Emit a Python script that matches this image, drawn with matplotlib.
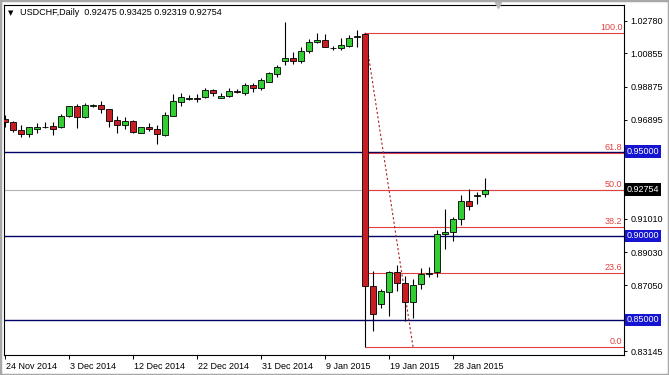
import matplotlib
matplotlib.use("Agg")
import matplotlib.pyplot as plt
from matplotlib.patches import Rectangle
import matplotlib.transforms as mtransforms

plt.rcParams['font.family'] = ['Liberation Sans', 'DejaVu Sans']
FS = 6.5

# daily candles, bar 0 = 24 Nov 2014 (MT4 chart incl. Sunday bars)
opens = [0.9693, 0.9677, 0.9630, 0.9604, 0.9637, 0.9645, 0.9653, 0.9646, 0.9713, 0.9772,
         0.9705, 0.9775, 0.9778, 0.9753, 0.9689, 0.9659, 0.9683, 0.9613, 0.9649, 0.9634,
         0.9600, 0.9715, 0.9798, 0.9816, 0.9818, 0.9824, 0.9868, 0.9818, 0.9832, 0.9862,
         0.9848, 0.9897, 0.9878, 0.9917, 0.9963, 1.0042, 1.0056, 1.0042, 1.0101, 1.0150,
         1.0165, 1.0118, 1.0116, 1.0131, 1.0181, 1.0199, 0.8701, 0.8592, 0.8667, 0.8783,
         0.8717, 0.8608, 0.8711, 0.8773, 0.8783, 0.9009, 0.9024, 0.9098, 0.9207, 0.9238,
         0.92475]
highs = [0.9719, 0.9685, 0.9659, 0.9649, 0.9669, 0.9675, 0.9677, 0.9725, 0.9772, 0.9784,
         0.9788, 0.9782, 0.9804, 0.9753, 0.9713, 0.9705, 0.9689, 0.9649, 0.9669, 0.9659,
         0.9737, 0.9841, 0.9848, 0.9838, 0.9842, 0.9878, 0.9872, 0.9848, 0.9878, 0.9873,
         0.9907, 0.9911, 0.9937, 0.9975, 1.0016, 1.0272, 1.0095, 1.0125, 1.0168, 1.0205,
         1.0202, 1.0131, 1.0179, 1.0195, 1.0224, 1.0208, 0.8791, 0.8682, 0.8792, 0.8826,
         0.8763, 0.8741, 0.8807, 0.8816, 0.9035, 0.9159, 0.9114, 0.9243, 0.9278, 0.9259,
         0.93425]
lows = [0.9649, 0.9619, 0.9586, 0.9590, 0.9610, 0.9643, 0.9600, 0.9640, 0.9709, 0.9640,
        0.9699, 0.9768, 0.9729, 0.9649, 0.9613, 0.9634, 0.9613, 0.9610, 0.9625, 0.9546,
        0.9596, 0.9715, 0.9774, 0.9808, 0.9798, 0.9818, 0.9832, 0.9818, 0.9828, 0.9852,
        0.9838, 0.9857, 0.9867, 0.9917, 0.9947, 1.0016, 1.0022, 1.0026, 1.0086, 1.0145,
        1.0125, 1.0107, 1.0107, 1.0125, 1.0125, 0.8340, 0.8435, 0.8569, 0.8525, 0.8672,
        0.8493, 0.8509, 0.8682, 0.8757, 0.8757, 0.8922, 0.8969, 0.9064, 0.9153, 0.9187,
        0.92319]
closes = [0.9675, 0.9630, 0.9604, 0.9646, 0.9649, 0.9650, 0.9637, 0.9713, 0.9772, 0.9705,
          0.9778, 0.9778, 0.9753, 0.9685, 0.9659, 0.9683, 0.9619, 0.9649, 0.9635, 0.9604,
          0.9719, 0.9802, 0.9824, 0.9820, 0.9815, 0.9868, 0.9848, 0.9832, 0.9862, 0.9856,
          0.9897, 0.9881, 0.9927, 0.9967, 1.0006, 1.0056, 1.0042, 1.0102, 1.0150, 1.0165,
          1.0125, 1.0116, 1.0135, 1.0179, 1.0187, 0.8701, 0.8533, 0.8672, 0.8783, 0.8717,
          0.8608, 0.8707, 0.8773, 0.8778, 0.9009, 0.9021, 0.9098, 0.9207, 0.9179, 0.9243,
          0.92754]

date_idx = [0, 8, 16, 24, 32, 40, 48, 56]
date_labels = ["24 Nov 2014", "3 Dec 2014", "12 Dec 2014", "22 Dec 2014",
               "31 Dec 2014", "9 Jan 2015", "19 Jan 2015", "28 Jan 2015"]

price_ticks = [1.02780, 1.00855, 0.98875, 0.96895, 0.91010, 0.89030, 0.87050, 0.83145]
hlines = [0.95, 0.90, 0.85]
bid = 0.92754

# fibonacci anchors (bar, price)
fib_a = (45, 1.0208)
fib_b = (51, 0.8340)
fib_levels = [0.0, 23.6, 38.2, 50.0, 61.8, 100.0]

GREEN = '#32cd32'
RED = '#c81e24'
FIBC = '#e04040'
NAVY = '#000066'

fig = plt.figure(figsize=(6.69, 3.75), dpi=100)
ax = fig.add_axes([4/669, 20/375, 620/669, 350/375])
ax.set_xlim(-0.125, 77.375)
ax.set_ylim(0.8291, 1.0373)

for p in hlines:
    ax.axhline(p, color=NAVY, lw=1.0, zorder=1)
ax.axhline(bid, color='#b4b4b4', lw=0.8, zorder=1)

# fib
lo, hi = fib_b[1], fib_a[1]
for lv in fib_levels:
    pr = lo + lv / 100 * (hi - lo)
    ax.hlines(pr, fib_a[0], 77.375, color=FIBC, lw=0.8, zorder=2)
    ax.text(77.2, pr + 0.0006, f"{lv:.1f}", color=FIBC, fontsize=FS,
            ha='right', va='bottom', zorder=5)
ax.plot([fib_a[0], fib_b[0]], [fib_a[1], fib_b[1]], color='#b02020', lw=0.8,
        ls=(0, (2, 2)), zorder=2)

# candles
x = list(range(len(opens)))
ax.vlines(x, lows, highs, color='black', lw=0.8, zorder=3)
for i in x:
    o, c = opens[i], closes[i]
    col = GREEN if c >= o else RED
    ax.bar(i, abs(c - o), bottom=min(o, c), width=0.65, color=col,
           edgecolor='black', lw=0.6, zorder=4)

for s in ax.spines.values():
    s.set_color('black')
    s.set_linewidth(0.8)

ax.yaxis.tick_right()
ax.set_yticks(price_ticks)
ax.set_yticklabels([f"{p:.5f}" for p in price_ticks], fontsize=FS)
ax.tick_params(axis='y', direction='out', length=2.5, width=0.7, pad=2)
ax.set_xticks(date_idx)
ax.set_xticklabels(date_labels, fontsize=FS, ha='left')
ax.tick_params(axis='x', direction='out', length=3, width=0.7, pad=2)
for lab in ax.get_xticklabels():
    lab.set_transform(lab.get_transform() + mtransforms.ScaledTranslation(1/100, 0, fig.dpi_scale_trans))

# boxed price labels on the scale
tr = mtransforms.blended_transform_factory(ax.transAxes, ax.transData)
for p in hlines:
    ax.text(1.005, p, f"{p:.5f}", transform=tr, fontsize=FS, color='white',
            va='center', ha='left', clip_on=False, zorder=6,
            bbox=dict(boxstyle='square,pad=0.2', fc='#1414d2', ec='none'))
ax.text(1.005, bid, f"{bid:.5f}", transform=tr, fontsize=FS, color='white',
        va='center', ha='left', clip_on=False, zorder=6,
        bbox=dict(boxstyle='square,pad=0.2', fc='black', ec='none'))

# chart shift marker
ax.plot([61.6], [1.0], marker='v', color='#b8b8b8', ms=5,
        transform=mtransforms.blended_transform_factory(ax.transData, ax.transAxes),
        clip_on=False, zorder=6)

# header
fig.text(8/669, 1 - 13/375, "\u25bc", fontsize=5, va='center', ha='left',
         family=['DejaVu Sans'])
fig.text(20/669, 1 - 12.5/375,
         "USDCHF,Daily  %.5f %.5f %.5f %.5f" % (opens[-1], highs[-1], lows[-1], closes[-1]),
         fontsize=FS, va='center', ha='left')

fig.patches.append(Rectangle((0, 0), 1, 1, transform=fig.transFigure, fill=False,
                             ec='#a8a8a8', lw=2.5))

fig.savefig("out.png", dpi=100)
